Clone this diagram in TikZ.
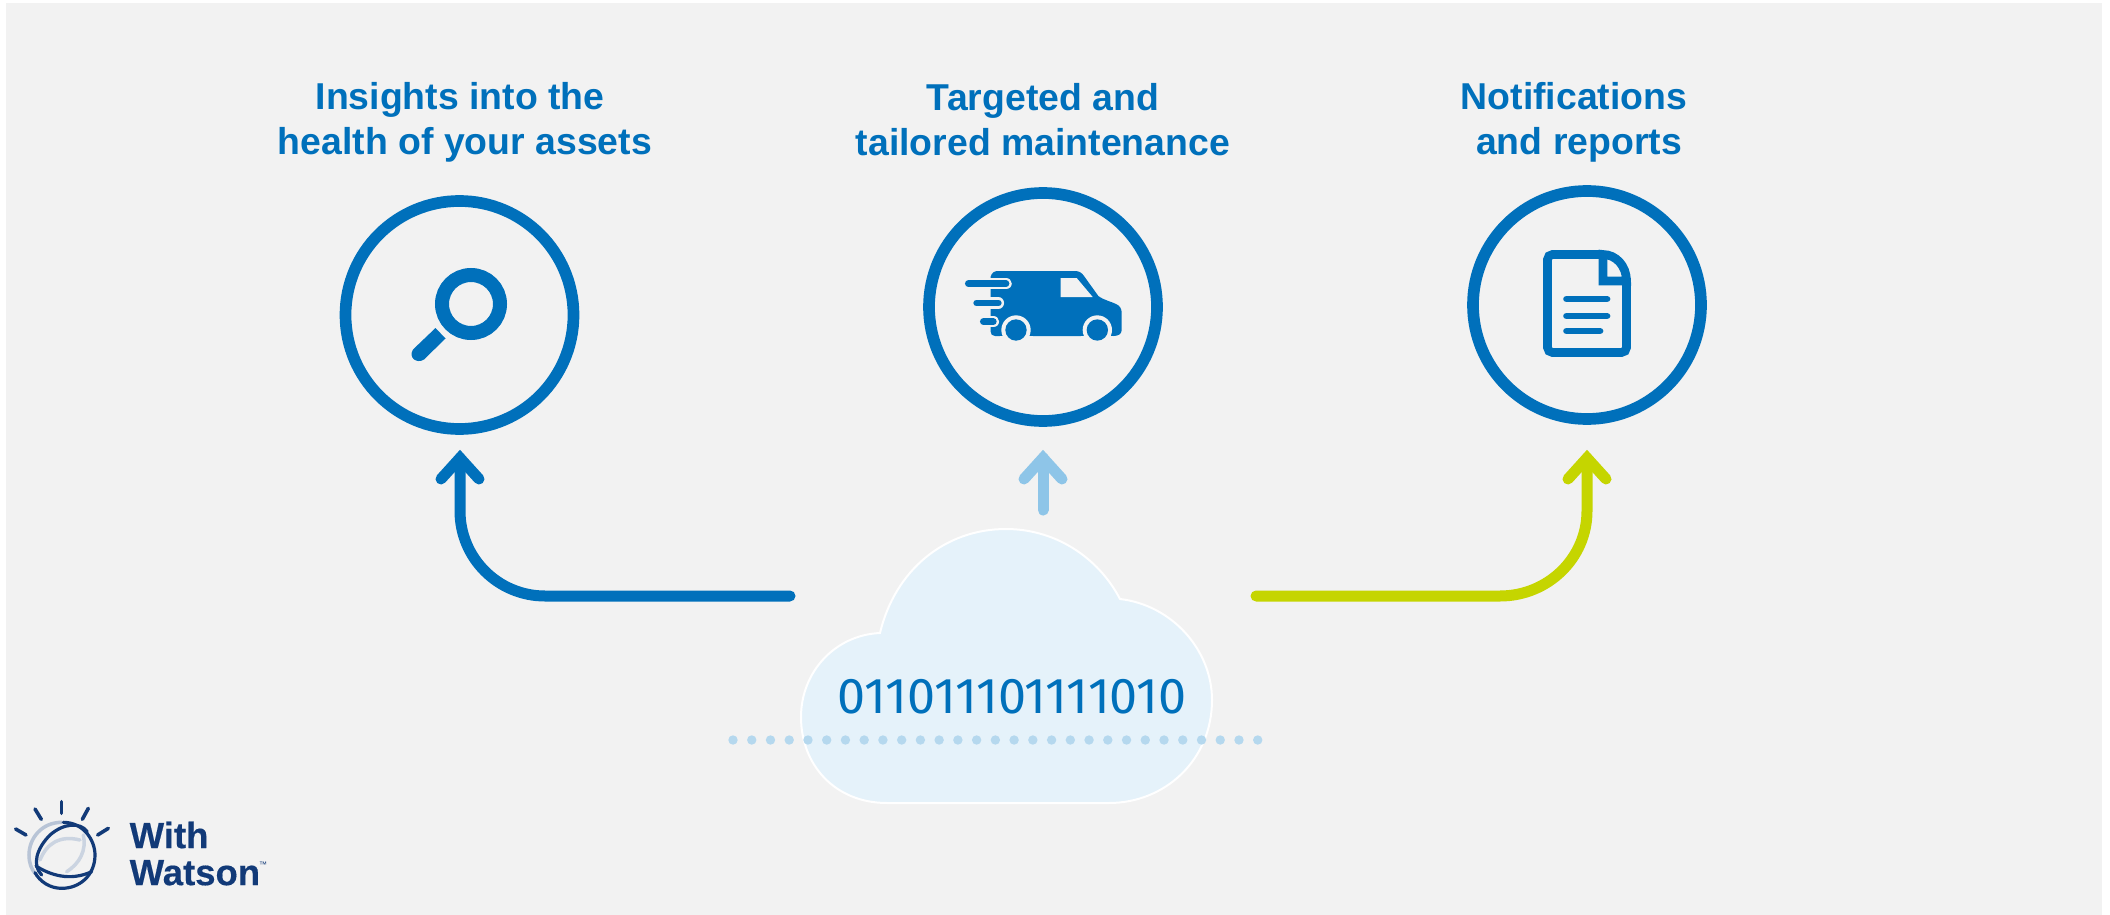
\documentclass[tikz,border=0pt]{standalone}
\usepackage{fontspec}
\setmainfont{Liberation Sans}
\newfontfamily\bitsfont{Fira Sans}
\newfontfamily\logofont[FakeBold=0.35]{Liberation Sans Bold}
\definecolor{ibm}{HTML}{0070BB}
\definecolor{bgc}{HTML}{F2F2F2}
\definecolor{sky}{HTML}{8EC5E8}
\definecolor{lime}{HTML}{C5D500}
\definecolor{cloudc}{HTML}{E5F2FA}
\definecolor{dotc}{HTML}{B5D8EE}
\definecolor{navy}{HTML}{123A78}
\tikzset{
  ring/.style={circle,draw=ibm,line width=11.7pt,minimum size=228pt,inner sep=0pt},
  title/.style={font=\fontsize{37.4}{44.7}\selectfont\bfseries,text=ibm,align=center,inner sep=0pt},
  conn/.style={line width=11pt,line cap=round,line join=miter},
  head/.style={line width=11pt,line cap=round,line join=miter,miter limit=10},
}
\begin{document}
\begin{tikzpicture}[x=1pt,y=-1pt]
\useasboundingbox (0,0) rectangle (2110,915);
\fill[white] (0,0) rectangle (2110,915);
\fill[bgc] (6,3) rectangle (2102,915);
% circles
\node[ring] (c1) at (459.5,315) {};
\node[ring] (c2) at (1043,307) {};
\node[ring] (c3) at (1587,305) {};
% titles
\node[title] (t1) at (465,122.5) {Insights into the\kern10pt\\health of your assets};
\node[title] (t2) at (1043,119.5) {Targeted and\\tailored maintenance};
\node[title] (t3) at (1579,122.5) {Notifications\kern10pt\\and reports};
% cloud
\coordinate (cl) at (1006,666);
\draw[white,line width=2pt,fill=cloudc] (880,633) .. controls (895,570) and (945,529) .. (1006,529)
  .. controls (1055,529) and (1098,557) .. (1120,599)
  .. controls (1172,605) and (1212,650) .. (1212,700)
  .. controls (1212,760) and (1165,803) .. (1109,803)
  -- (887,803)
  .. controls (835,803) and (801,765) .. (801,717)
  .. controls (801,672) and (835,635) .. (880,633) -- cycle;
\node[font=\bitsfont\fontsize{50.3}{50.3}\selectfont,text=ibm,inner sep=0pt] (bits) at (1012,697) {011011101111010};
\foreach \i in {0,...,28} \fill[dotc] (733+18.74*\i,740) circle (4.7pt);
% connectors
\coordinate (a1s) at (790,596);
\coordinate (a1c) at (545,596);
\coordinate (a1t) at (460,458);
\coordinate (a2s) at (1043,510);
\coordinate (a2t) at (1043,458);
\coordinate (a3s) at (1256,596);
\coordinate (a3c) at (1500,596);
\coordinate (a3t) at (1587,458);
\draw[conn,ibm] (a1s) -- (a1c) .. controls (498,596) and (460,558) .. (460,511) -- (a1t);
\draw[head,ibm] (441,479) -- (a1t) -- (479,479);
\draw[conn,sky] (a2s) -- (a2t);
\draw[head,sky] (1024,479) -- (a2t) -- (1062,479);
\draw[conn,lime] (a3s) -- (a3c) .. controls (1548,596) and (1587,558) .. (1587,511) -- (a3t);
\draw[head,lime] (1568,479) -- (a3t) -- (1606,479);
% magnifier
\draw[ibm,line width=14pt] (471,304) circle (29pt);
\fill[ibm] (435.5,328) -- (445.5,338.5) -- (424,359.5) .. controls (417,364) and (408,358) .. (413,349.5) -- cycle;
% van
\begin{scope}[shift={(900,240)},x=1pt/3,y=-1pt/3]
\fill[ibm] (272,110) .. controls (275,98) and (283,93) .. (295,93) -- (525,93)
  .. controls (537,93) and (545,98) .. (552,108) -- (595,168)
  .. controls (610,180) and (640,187) .. (650,193) .. controls (660,198) and (665,207) .. (665,218)
  -- (665,270) .. controls (665,282) and (655,288) .. (640,288) -- (285,288)
  .. controls (276,288) and (272,282) .. (272,275) -- cycle;
\fill[bgc] (482,114) -- (530,114) -- (578,171) -- (482,171) -- cycle;
\fill[bgc] (348,270) circle (44*1pt/3);
\fill[bgc] (592,270) circle (44*1pt/3);
\fill[bgc] (300,289) rectangle (400,320);
\fill[bgc] (544,289) rectangle (640,320);
\fill[ibm] (348,270) circle (32*1pt/3);
\fill[ibm] (592,270) circle (32*1pt/3);
\draw[bgc,line width=11.5pt,line cap=round] (205,131) -- (318,131);
\draw[bgc,line width=11.5pt,line cap=round] (230,189) -- (295,189);
\draw[bgc,line width=11.5pt,line cap=round] (250,245) -- (280,245);
\draw[ibm,line width=6.7pt,line cap=round] (205,131) -- (318,131);
\draw[ibm,line width=6.7pt,line cap=round] (230,189) -- (295,189);
\draw[ibm,line width=6.7pt,line cap=round] (250,245) -- (280,245);
\end{scope}
% document
\draw[ibm,line width=8.7pt,rounded corners=5pt] (1603,254.5) -- (1547.5,254.5) -- (1547.5,352.5) -- (1626.5,352.5) -- (1626.5,278);
\draw[ibm,line width=8.7pt,line join=miter] (1603,254.5) -- (1603,281) -- (1626.5,281) .. controls (1626.5,266) and (1616,254.5) .. (1603,254.5) -- cycle;
\foreach \yy/\xe in {299/1607,316/1607,331/1600}
  \draw[ibm,line width=6.7pt,line cap=round] (1566.5,\yy) -- (\xe,\yy);
% logo
\begin{scope}[shift={(0,760)},x=1pt/3,y=-1pt/3]
\begin{scope}[navy,line cap=round,line width=3.6pt]
\draw (185,125) -- (185,160);
\draw (105,147) -- (124,178);
\draw (265,145) -- (247,178);
\draw (47,207) -- (78,225);
\draw (325,205) -- (293,225);
\end{scope}
\begin{scope}[line width=3.2pt,line cap=round]
\draw[navy!30,line width=3.5pt] (185,187) .. controls (125,187) and (87,235) .. (87,285) .. controls (87,310) and (95,328) .. (105,340);
\draw[navy!22,line width=3.5pt] (120,300) .. controls (140,250) and (180,225) .. (240,240);
\draw[navy!22,line width=3.5pt] (200,335) .. controls (240,310) and (260,270) .. (250,225);
\draw[navy] (190,187) .. controls (250,187) and (285,240) .. (285,285) .. controls (285,345) and (240,385) .. (185,385) .. controls (150,385) and (120,365) .. (105,338);
\draw[navy] (262,215) .. controls (240,185) and (190,190) .. (150,225) .. controls (110,265) and (95,315) .. (125,345);
\draw[navy] (108,318) .. controls (150,345) and (210,365) .. (275,335);
\end{scope}
\end{scope}
\node[font=\logofont\fontsize{36.5}{37}\selectfont,text=navy,align=left,inner sep=0pt,anchor=north west] (logo) at (129.5,821.5) {With\\Watson};
\node[font=\fontsize{8}{8}\selectfont,text=navy,inner sep=0pt] (tm) at (263,865) {™};
\end{tikzpicture}
\end{document}
